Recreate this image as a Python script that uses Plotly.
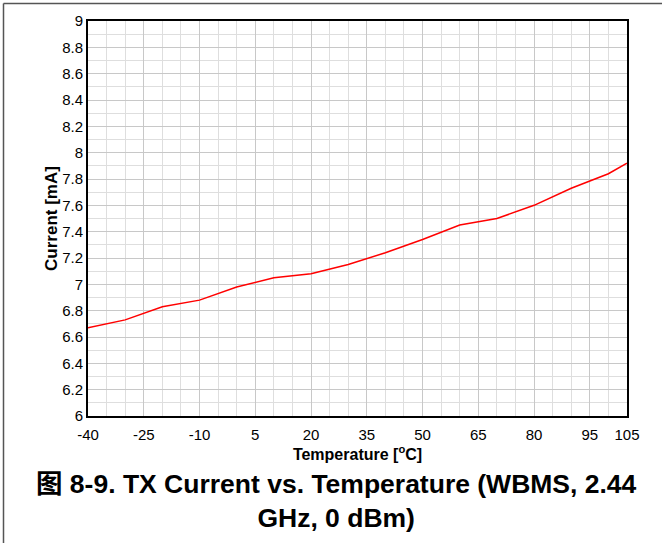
import plotly.graph_objects as go

temperature = [-40, -30, -20, -10, 0, 10, 20, 30, 40, 50, 60, 70, 80, 90, 100, 105]
current_ma = [6.67, 6.73, 6.83, 6.88, 6.98, 7.05, 7.08, 7.15, 7.24, 7.34, 7.45, 7.50, 7.60, 7.73, 7.84, 7.92]
x_ticks = [-40, -25, -10, 5, 20, 35, 50, 65, 80, 95, 105]
y_ticks = [6, 6.2, 6.4, 6.6, 6.8, 7, 7.2, 7.4, 7.6, 7.8, 8, 8.2, 8.4, 8.6, 8.8, 9]

W, H = 662, 543
L, R, T, B = 88, 35, 21, 127
pw, ph = W - L - R, H - T - B

def px(x):
    return (x - L) / pw

def py(y):
    return (H - B - y) / ph

fig = go.Figure()
fig.add_trace(go.Scatter(x=temperature, y=current_ma, mode="lines",
                         line=dict(color="#ff0000", width=1.5), showlegend=False))

font = "Liberation Sans, Arial, sans-serif"
fig.update_layout(
    width=W, height=H,
    margin=dict(l=L, r=R, t=T, b=B),
    paper_bgcolor="white", plot_bgcolor="white",
    font=dict(family=font, size=15, color="black"),
    xaxis=dict(range=[-40, 105], tickmode="array", tickvals=x_ticks,
               ticktext=[str(v) for v in x_ticks],
               showgrid=True, gridcolor="#c8c8c8", gridwidth=1,
               minor=dict(tick0=-40, dtick=5, showgrid=True, gridcolor="#dedede", gridwidth=1),
               showline=True, linecolor="black", linewidth=2, mirror=True,
               ticks="", zeroline=False, ticklabelstandoff=4,
               title=dict(text="<b>Temperature [<sup>o</sup>C]</b>", font=dict(size=16), standoff=2)),
    yaxis=dict(range=[6, 9], tickmode="array", tickvals=y_ticks,
               ticktext=[f"{v:g}" for v in y_ticks],
               showgrid=True, gridcolor="#c8c8c8", gridwidth=1,
               minor=dict(tick0=6, dtick=0.1, showgrid=True, gridcolor="#dedede", gridwidth=1),
               showline=True, linecolor="black", linewidth=2, mirror=True,
               ticks="", zeroline=False,
               title=dict(text="<b>Current [mA]</b>", font=dict(size=17), standoff=0)),
)

fig.add_annotation(text="<b>图 8-9. TX Current vs. Temperature (WBMS, 2.44<br>GHz, 0 dBm)</b>",
                   xref="paper", yref="paper", x=px(336), y=py(501),
                   xanchor="center", yanchor="middle", showarrow=False, align="center",
                   font=dict(size=26.5, family="Liberation Sans, Arial, Noto Sans CJK SC, sans-serif", color="black"))

# outer frame (left and top edges visible)
fig.add_shape(type="line", xref="paper", yref="paper", x0=px(3.5), y0=py(3.5), x1=px(662), y1=py(3.5),
              line=dict(color="#555555", width=1.5))
fig.add_shape(type="line", xref="paper", yref="paper", x0=px(3.5), y0=py(3.5), x1=px(3.5), y1=py(543),
              line=dict(color="#555555", width=1.5))

fig.write_html("out.html", config={"displayModeBar": False},
               post_script="document.body.style.margin='0';document.body.style.padding='0';document.documentElement.style.overflow='hidden';")
